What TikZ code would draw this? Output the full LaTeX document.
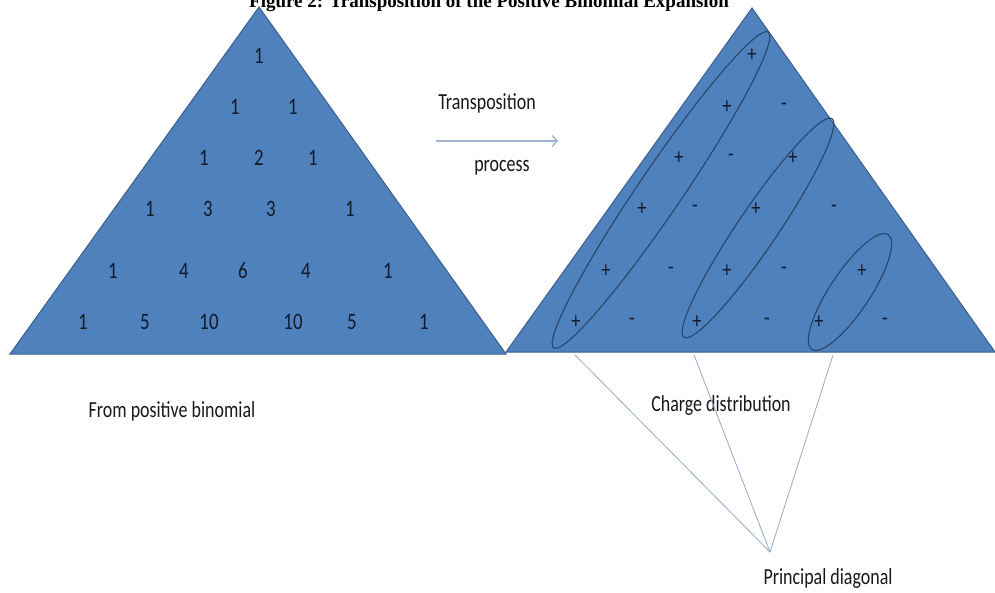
\documentclass[tikz,border=0pt]{standalone}
\usepackage{fontspec}
\newfontfamily\calfont{Carlito}
\newfontfamily\tnrfont{Liberation Serif}
\usetikzlibrary{shapes.geometric,arrows.meta}
\definecolor{triblue}{HTML}{4F81BD}
\definecolor{triedge}{HTML}{3A5F8C}
\definecolor{ellcol}{HTML}{2A466A}
\definecolor{linecol}{HTML}{94ABC8}
\definecolor{arrcol}{HTML}{9DB3CF}
\definecolor{numcol}{HTML}{121A2C}
\begin{document}
\begin{tikzpicture}[x=1pt,y=-1pt,
  tri/.style={fill=triblue,draw=triedge,line width=1pt,line join=miter},
  lbl/.style={font=\calfont\fontsize{23}{26}\selectfont,xscale=0.78,inner sep=0pt,text=black!90},
  num/.style={font=\calfont\fontsize{23.5}{26}\selectfont,xscale=0.8,inner sep=0pt,text=numcol},
  sgn/.style={font=\calfont\fontsize{23}{26}\selectfont,xscale=0.8,inner sep=0pt,text=numcol},
  diag/.style={draw=ellcol,line width=1.1pt,ellipse,inner sep=0pt},
  pointer/.style={draw=linecol,line width=0.8pt}]
\useasboundingbox (0,0) rectangle (995,592);
\clip (0,0) rectangle (995,592);
\fill[white] (0,0) rectangle (995,592);
% title (cut off at top, as in the reference)
\node[font=\tnrfont\bfseries\fontsize{19}{22}\selectfont,anchor=base,inner sep=0pt] (title) at (489,7) {Figure 2: Transposition of the Positive Binomial Expansion};
% triangles
\draw[tri] (259,7) -- (506,354) -- (10,354) -- cycle;
\draw[tri] (752,8) -- (995,352) -- (506,352) -- cycle;
% numbers
\node[num] (n00) at (259,56) {1};
\node[num] (n10) at (235,107) {1};
\node[num] (n11) at (293,107) {1};
\node[num] (n20) at (204,158) {1};
\node[num] (n21) at (259,158) {2};
\node[num] (n22) at (313,158) {1};
\node[num] (n30) at (150,209) {1};
\node[num] (n31) at (208,209) {3};
\node[num] (n32) at (271,209) {3};
\node[num] (n33) at (350,209) {1};
\node[num] (n40) at (113,271) {1};
\node[num] (n41) at (184,271) {4};
\node[num] (n42) at (243,271) {6};
\node[num] (n43) at (306,271) {4};
\node[num] (n44) at (388,271) {1};
\node[num] (n50) at (83,322) {1};
\node[num] (n51) at (145,322) {5};
\node[num] (n52) at (209,322) {10};
\node[num] (n53) at (293,322) {10};
\node[num] (n54) at (352,322) {5};
\node[num] (n55) at (424,322) {1};
% signs
\node[sgn] (s00) at (752,55) {+};
\node[sgn] (s10) at (727,107) {+};
\node[sgn] (s11) at (784,107) {-};
\node[sgn] (s20) at (679,158) {+};
\node[sgn] (s21) at (731,158) {-};
\node[sgn] (s22) at (793,158) {+};
\node[sgn] (s30) at (642,209) {+};
\node[sgn] (s31) at (695,209) {-};
\node[sgn] (s32) at (756,209) {+};
\node[sgn] (s33) at (834,209) {-};
\node[sgn] (s40) at (606,271) {+};
\node[sgn] (s41) at (671,271) {-};
\node[sgn] (s42) at (727,271) {+};
\node[sgn] (s43) at (784,271) {-};
\node[sgn] (s44) at (862,271) {+};
\node[sgn] (s50) at (576,322) {+};
\node[sgn] (s51) at (632,322) {-};
\node[sgn] (s52) at (697,322) {+};
\node[sgn] (s53) at (767,322) {-};
\node[sgn] (s54) at (819,322) {+};
\node[sgn] (s55) at (885,322) {-};
% principal diagonals
\node[diag,minimum width=382pt,minimum height=44pt,rotate=55.8] (e1) at (661,190) {};
\node[diag,minimum width=264pt,minimum height=40pt,rotate=55.9] (e2) at (758,228) {};
\node[diag,minimum width=138pt,minimum height=40pt,rotate=56.4] (e3) at (850,292) {};
% transposition arrow
\node[lbl] (trans) at (487,103) {Transposition};
\node[lbl] (proc) at (502,168) {process};
\coordinate (a1) at (436,141);
\coordinate (a2) at (558,141);
\draw[draw=arrcol,line width=1.3pt,-{Straight Barb[length=5pt,width=11pt,line width=1.3pt]}] (a1) -- (a2);
% labels
\node[lbl] (from) at (172,411) {From positive binomial};
\node[lbl] (charge) at (721,405) {Charge distribution};
\node[lbl] (princ) at (828,578) {Principal diagonal};
% pointer lines
\coordinate (p0) at (770,552);
\coordinate (b1) at (575,355);
\coordinate (b2) at (694,355);
\coordinate (b3) at (833,355);
\draw[pointer] (b1) -- (p0) -- (b3);
\draw[pointer] (b2) -- (p0);
\end{tikzpicture}
\end{document}
